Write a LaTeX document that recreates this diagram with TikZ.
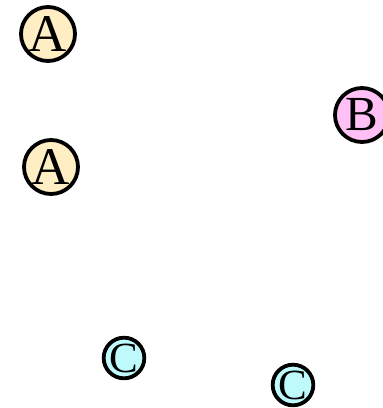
\documentclass[tikz,border=0pt]{standalone}
\usepackage{fontspec}
\setmainfont{Liberation Serif}
\definecolor{fillA}{RGB}{255,238,196}
\definecolor{fillB}{RGB}{255,192,245}
\definecolor{fillC}{RGB}{190,250,252}
\tikzset{
  bigball/.style={circle, draw=black, line width=3.8pt, minimum size=54pt, inner sep=0pt},
  smallball/.style={circle, draw=black, line width=3.8pt, minimum size=40pt, inner sep=0pt, font=\fontsize{43}{43}\selectfont}
}
\begin{document}
\begin{tikzpicture}[x=1pt,y=-1pt]
\useasboundingbox (0,0) rectangle (383,408);
\node[bigball, fill=fillA, font=\fontsize{53}{53}\selectfont] (a1) at (48,34) {A};
\node[bigball, fill=fillA, font=\fontsize{53}{53}\selectfont] (a2) at (51,167) {A};
\node[bigball, fill=fillB, font=\fontsize{49}{49}\selectfont] (b) at (362,115) {B};
\node[smallball, fill=fillC] (c1) at (124,358) {C};
\node[smallball, fill=fillC] (c2) at (293,385) {C};
\end{tikzpicture}
\end{document}
